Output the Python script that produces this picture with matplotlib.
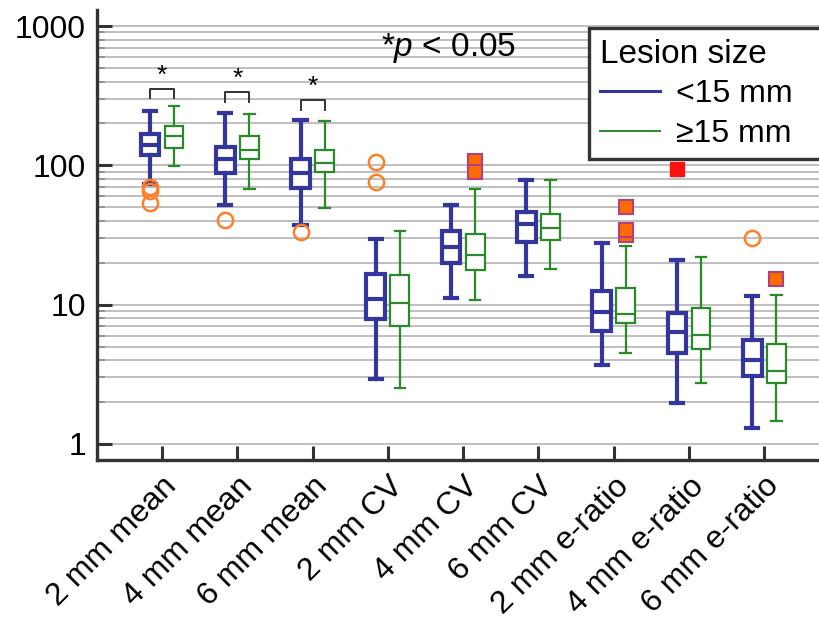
import matplotlib
matplotlib.use('Agg')
import matplotlib.pyplot as plt
from matplotlib.lines import Line2D
from matplotlib.ticker import NullFormatter, FixedLocator, FixedFormatter

plt.rcParams['font.family'] = ['Liberation Sans', 'DejaVu Sans']
plt.rcParams['font.size'] = 23
plt.rcParams['mathtext.fontset'] = 'custom'
plt.rcParams['mathtext.rm'] = 'Liberation Sans'
plt.rcParams['mathtext.it'] = 'Liberation Sans:italic'

categories = ['2 mm mean', '4 mm mean', '6 mm mean', '2 mm CV', '4 mm CV',
              '6 mm CV', '2 mm e-ratio', '4 mm e-ratio', '6 mm e-ratio']

# <15 mm
small_whishi = [247, 238, 212, 29.8, 51.7, 78.6, 27.6, 21.0, 11.5]
small_q3 = [167, 136, 111, 16.5, 33.6, 46.5, 12.5, 8.77, 5.61]
small_med = [140, 112, 88.7, 11.0, 25.8, 38.1, 8.82, 6.40, 3.99]
small_q1 = [119, 88.7, 69.2, 7.94, 20.0, 28.3, 6.48, 4.52, 3.09]
small_whislo = [73.5, 51.7, 37.3, 2.94, 11.2, 16.1, 3.69, 1.98, 1.30]
small_fliers = [[65.5, 70.3, 53.5], [40.8], [33.4], [105, 76], [], [], [], [], [30.0]]
small_extreme = [[], [], [], [], [], [], [], [94], []]

# >=15 mm
large_whishi = [267, 235, 207, 33.8, 68, 78.6, 26.3, 22.0, 11.8]
large_q3 = [193, 162, 129, 16.3, 32, 45, 13.1, 9.47, 5.20]
large_med = [162, 128, 103.5, 10.2, 22.7, 35.7, 8.58, 6.06, 3.34]
large_q1 = [133, 111, 89, 7.0, 17.7, 29.1, 7.39, 4.83, 2.75]
large_whislo = [98.6, 68, 49.2, 2.54, 10.8, 18.1, 4.5, 2.74, 1.47]
large_fliers = [[], [], [], [], [108, 90], [], [50.6, 31.7, 34.4], [], [15.4]]

# significance brackets (first three groups)
sig_groups = [0, 1, 2]
sig_top = [353, 336, 295]
sig_leg = [305, 285, 250]

blue = '#35359e'
green = '#2a8a2a'
dark = '#333333'


def make_stats(lo, q1, med, q3, hi, fl):
    out = []
    for i in range(len(med)):
        out.append({'whislo': lo[i], 'q1': q1[i], 'med': med[i], 'q3': q3[i],
                    'whishi': hi[i], 'fliers': fl[i]})
    return out


fig = plt.figure(figsize=(8.2, 6.19), dpi=100)
ax = fig.add_axes([97/820, 1-460/619, 1-97/820, 450/619])

pos = list(range(len(categories)))
off = 0.16
w = 0.25

ax.bxp(make_stats(small_whislo, small_q1, small_med, small_q3, small_whishi, small_fliers),
       positions=[p-off for p in pos], widths=w, patch_artist=True,
       boxprops=dict(facecolor='white', edgecolor=blue, linewidth=3),
       medianprops=dict(color=blue, linewidth=3),
       whiskerprops=dict(color=blue, linewidth=3),
       capprops=dict(color=blue, linewidth=3),
       capwidths=0.16,
       flierprops=dict(marker='o', markerfacecolor='none', markeredgecolor='#ff7f27',
                       markersize=11, markeredgewidth=1.8),
       zorder=3)

ax.bxp(make_stats(large_whislo, large_q1, large_med, large_q3, large_whishi, large_fliers),
       positions=[p+off for p in pos], widths=w, patch_artist=True,
       boxprops=dict(facecolor='white', edgecolor=green, linewidth=1.6),
       medianprops=dict(color=green, linewidth=1.6),
       whiskerprops=dict(color=green, linewidth=1.6),
       capprops=dict(color=green, linewidth=1.6),
       capwidths=0.14,
       flierprops=dict(marker='s', markerfacecolor='#ff6a00', markeredgecolor='#b04080',
                       markersize=10, markeredgewidth=1.5),
       zorder=3)

for i, vals in enumerate(small_extreme):
    for v in vals:
        ax.plot(pos[i]-off, v, marker='s', color='#ff1010', markersize=10,
                linestyle='none', zorder=4, clip_on=False)

for g, t, l in zip(sig_groups, sig_top, sig_leg):
    ax.plot([g-off, g-off, g+off, g+off], [l, t, t, l], color=dark, linewidth=1.4, zorder=3)
    ax.text(g, t*1.02, '*', ha='center', va='bottom', fontsize=19)

fig.text(449/820, 1-48/619, r'*$p$ < 0.05', fontsize=24, ha='center', va='center')

ax.set_yscale('log')
ax.set_ylim(0.767, 1305)
ax.set_xlim(-0.863, 8.74)
ax.yaxis.set_major_locator(FixedLocator([1, 10, 100, 1000]))
ax.yaxis.set_major_formatter(FixedFormatter(['1', '10', '100', '1000']))
minor = [m * 10**e for e in range(3) for m in range(2, 10)]
ax.yaxis.set_minor_locator(FixedLocator(minor))
ax.yaxis.set_minor_formatter(NullFormatter())
ax.grid(True, which='both', axis='y', color='#b4b4b4', linewidth=1.2, zorder=0)
ax.set_axisbelow(True)

ax.set_xticks(pos)
ax.set_xticklabels(categories, rotation=45, ha='right', rotation_mode='anchor', fontsize=23)
ax.tick_params(axis='x', direction='in', length=10, width=2.2, color=dark, pad=8)
ax.tick_params(axis='y', which='major', direction='in', length=11, width=2.2, color=dark, pad=8)
ax.tick_params(axis='y', which='minor', direction='in', length=6, width=1.2, color='#8a8a8a')

for s in ['top', 'right']:
    ax.spines[s].set_visible(False)
for s in ['left', 'bottom']:
    ax.spines[s].set_color(dark)
    ax.spines[s].set_linewidth(2.4)

handles = [Line2D([], [], color=blue, linewidth=2.2), Line2D([], [], color=green, linewidth=1.4)]
leg = ax.legend(handles, ['<15 mm', '≥15 mm'], title='Lesion size', loc='upper left',
                bbox_to_anchor=(589/820, 1-28/619, 245/820, 0), bbox_transform=fig.transFigure,
                mode='expand', borderaxespad=0, fontsize=23, title_fontsize=24,
                alignment='left', handlelength=1.9, handletextpad=0.5, labelspacing=0.3,
                fancybox=False, framealpha=1, edgecolor=dark, borderpad=0.33)
leg.get_frame().set_linewidth(2.4)
leg.set_zorder(5)

fig.savefig('out.png', dpi=100)
